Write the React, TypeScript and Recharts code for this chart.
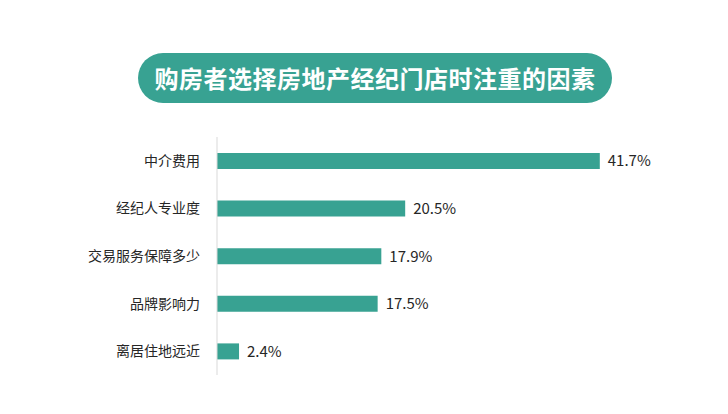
import React from 'react';
import { BarChart, Bar, XAxis, YAxis, LabelList } from 'recharts';

const factors = ['中介费用', '经纪人专业度', '交易服务保障多少', '品牌影响力', '离居住地远近'];
const shares = [41.7, 20.5, 17.9, 17.5, 2.4];

const data = factors.map((name, i) => ({ name, value: shares[i] }));

const FONT = '"Noto Sans CJK SC", "Noto Sans", sans-serif';

const App: React.FC = () => {
    return (
        <div style={{ position: 'absolute', left: 0, top: 0, width: 728, height: 414, background: '#fff', fontFamily: FONT }}>
            <div style={{
                position: 'absolute', left: 138, top: 53, width: 474, height: 50,
                borderRadius: 25, background: '#38a292', color: '#fff',
                fontSize: 24, fontWeight: 700, lineHeight: '50px', textAlign: 'center',
                letterSpacing: 0.5,
            }}>
                购房者选择房地产经纪门店时注重的因素
            </div>
            <BarChart
                width={728}
                height={414}
                layout="vertical"
                data={data}
                margin={{ top: 137, right: 52, bottom: 39, left: 0 }}
                style={{ position: 'absolute', left: 0, top: 0 }}
            >
                <XAxis type="number" domain={[0, 50]} hide />
                <YAxis
                    type="category"
                    dataKey="name"
                    width={217}
                    axisLine={{ stroke: '#d9d9d9' }}
                    tickLine={false}
                    tickSize={6}
                    tickMargin={11}
                    tick={{ fontSize: 14, fill: '#262626', fontFamily: FONT }}
                />
                <Bar dataKey="value" fill="#38a292" barSize={16} isAnimationActive={false}>
                    <LabelList
                        dataKey="value"
                        position="right"
                        offset={8}
                        formatter={(v: any) => `${v}%`}
                        style={{ fontSize: 15, fill: '#262626', fontFamily: FONT }}
                    />
                </Bar>
            </BarChart>
        </div>
    );
};

export default App;
